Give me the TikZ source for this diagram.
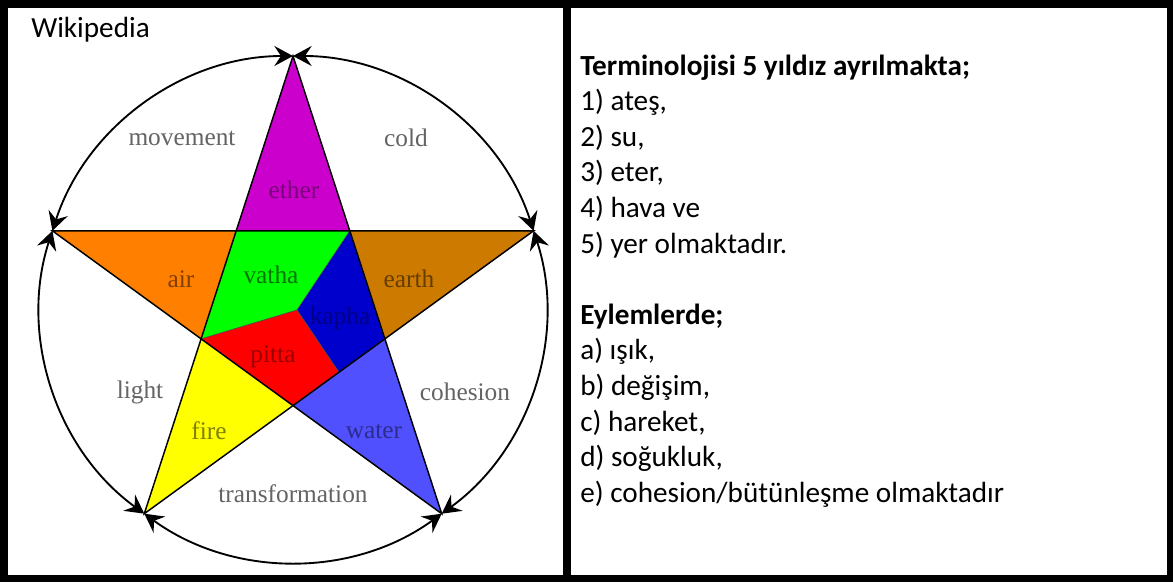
\documentclass[tikz,border=0pt]{standalone}
\usepackage{fontspec}
\setmainfont{Carlito}
\newfontfamily\lserif{Liberation Serif}
\usetikzlibrary{arrows.meta}
\definecolor{cether}{RGB}{204,0,204}
\definecolor{cair}{RGB}{255,127,0}
\definecolor{cearth}{RGB}{204,122,0}
\definecolor{cfire}{RGB}{255,255,0}
\definecolor{cwater}{RGB}{80,80,255}
\definecolor{cvatha}{RGB}{0,255,0}
\definecolor{ckapha}{RGB}{0,0,204}
\definecolor{cpitta}{RGB}{255,0,0}
\definecolor{outlab}{RGB}{100,100,100}
\begin{document}
\begin{tikzpicture}[x=0.75pt,y=-0.75pt,
  lab/.style={font=\lserif\fontsize{19}{19}\selectfont, inner sep=0pt},
  outl/.style={lab, text=outlab},
  rtext/.style={font=\fontsize{21.9}{26}\selectfont, anchor=base west, inner sep=0pt},
  starline/.style={line width=1.1pt, line join=miter},
  innerline/.style={line width=0.5pt, draw=black!70},
  tipa/.tip={Stealth[length=14pt,width=15pt,inset=5pt]},
  arcline/.style={line width=1.4pt, tipa-tipa}
]
\useasboundingbox (0,0) rectangle (1173,582);
\fill[white] (0,0) rectangle (1173,582);
% frame
\fill[black] (0,0) rectangle (1173,8);
\fill[black] (0,575) rectangle (1173,582);
\fill[black] (0,0) rectangle (8,582);
\fill[black] (1167,0) rectangle (1173,582);
\fill[black] (563,0) rectangle (571,582);

% star coordinates
\coordinate (vT) at (293,56);
\coordinate (vL) at (52.4,230.8);
\coordinate (vR) at (533.6,230.8);
\coordinate (vBL) at (144.3,513.7);
\coordinate (vBR) at (441.7,513.7);
\coordinate (iTL) at (236.2,230.8);
\coordinate (iTR) at (349.8,230.8);
\coordinate (iL) at (201.1,338.9);
\coordinate (iR) at (384.9,338.9);
\coordinate (iB) at (293,405.6);
\coordinate (P) at (297,310);
\coordinate (M) at (339,372.3);

% fills
\fill[cether] (vT) -- (iTL) -- (iTR) -- cycle;
\fill[cair] (vL) -- (iTL) -- (iL) -- cycle;
\fill[cearth] (vR) -- (iTR) -- (iR) -- cycle;
\fill[cfire] (vBL) -- (iL) -- (iB) -- cycle;
\fill[cwater] (vBR) -- (iB) -- (iR) -- cycle;
\fill[cvatha] (iTL) -- (iTR) -- (P) -- (iL) -- cycle;
\fill[ckapha] (iTR) -- (iR) -- (M) -- (P) -- cycle;
\fill[cpitta] (iL) -- (P) -- (M) -- (iB) -- cycle;
\draw[innerline] (P) -- (iTR);
\draw[innerline] (P) -- (iL);
\draw[innerline] (P) -- (M);
\draw[starline] (vT) -- (vBL) -- (vR) -- (vL) -- (vBR) -- cycle;

% circle arcs
\draw[arcline] (vT) arc[start angle=-90, end angle=-162, radius=253];
\draw[arcline] (vL) arc[start angle=-162, end angle=-234, radius=253];
\draw[arcline] (vBL) arc[start angle=126, end angle=54, radius=253];
\draw[arcline] (vBR) arc[start angle=54, end angle=-18, radius=253];
\draw[arcline] (vR) arc[start angle=-18, end angle=-90, radius=253];

% inner labels
\node[lab, text=cether!60!black] (ether) at (294,190) {ether};
\node[lab, text=cvatha!45!black] (vatha) at (271,275) {vatha};
\node[lab, text=ckapha!65!black] (kapha) at (340,318) {kapha};
\node[lab, text=cpitta!60!black] (pitta) at (273,357) {pitta};
\node[lab, text=cair!50!black] (air) at (181,279) {air};
\node[lab, text=cearth!50!black] (earth) at (409,279) {earth};
\node[lab, text=cfire!50!black] (fire) at (209,431) {fire};
\node[lab, text=cwater!55!black] (water) at (374,431) {water};

% outer labels
\node[outl] (movement) at (182,138) {movement};
\node[outl] (cold) at (406,138) {cold};
\node[outl] (light) at (140,392) {light};
\node[outl] (cohesion) at (465,392) {cohesion};
\node[outl] (transformation) at (293,494) {transformation};

\node[rtext] (wiki) at (31,37) {Wikipedia};

% right text
\node[rtext] (t0) at (580,75) {\textbf{Terminolojisi 5 yıldız ayrılmakta;}};
\node[rtext] (t1) at (580,110.6) {1) ateş,};
\node[rtext] (t2) at (580,146.2) {2) su,};
\node[rtext] (t3) at (580,181.8) {3) eter,};
\node[rtext] (t4) at (580,217.4) {4) hava ve};
\node[rtext] (t5) at (580,253) {5) yer olmaktadır.};
\node[rtext] (t6) at (580,324.2) {\textbf{Eylemlerde;}};
\node[rtext] (t7) at (580,359.8) {a) ışık,};
\node[rtext] (t8) at (580,395.4) {b) değişim,};
\node[rtext] (t9) at (580,431) {c) hareket,};
\node[rtext] (t10) at (580,466.6) {d) soğukluk,};
\node[rtext] (t11) at (580,502.2) {e) cohesion/bütünleşme olmaktadır};
\end{tikzpicture}
\end{document}
